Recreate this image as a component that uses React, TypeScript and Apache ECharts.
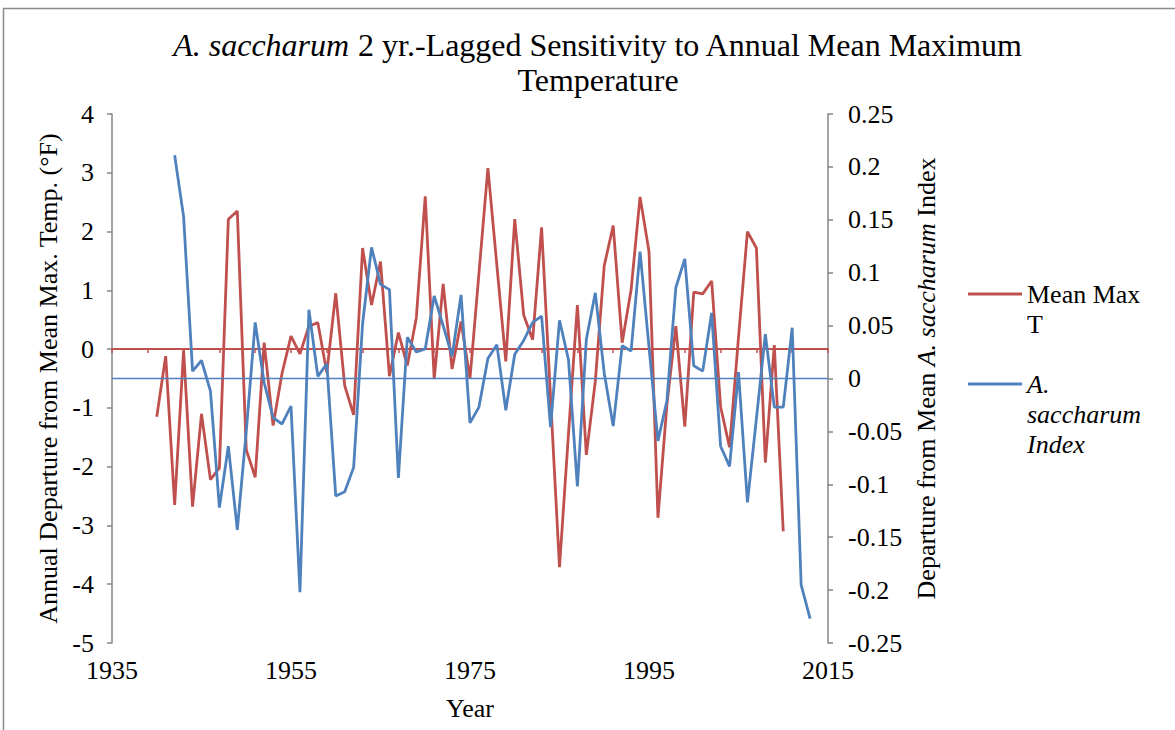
import React, { useEffect, useRef } from "react";
import * as echarts from "echarts";

// ---- data ----
const tempStartYear = 1940;
const meanMaxT = [
  -1.15, -0.12, -2.65, -0.02, -2.68, -1.1, -2.22, -2.02, 2.21, 2.35,
  -1.71, -2.18, 0.11, -1.3, -0.41, 0.22, -0.08, 0.39, 0.45, -0.4,
  0.95, -0.62, -1.12, 1.72, 0.75, 1.49, -0.46, 0.28, -0.28, 0.53,
  2.6, -0.51, 1.11, -0.34, 0.47, -0.5, 1.29, 3.08, 1.43, -0.21,
  2.21, 0.58, 0.16, 2.07, -0.82, -3.71, -1.45, 0.75, -1.8, -0.55,
  1.42, 2.1, 0.11, 1.01, 2.59, 1.66, -2.87, -0.95, 0.39, -1.32,
  0.97, 0.94, 1.16, -0.98, -1.67, 0.2, 2.0, 1.72, -1.93, 0.07,
  -3.1,
];
const indexStartYear = 1942;
const sacchIndex = [
  0.211, 0.153, 0.007, 0.017, -0.012, -0.122, -0.064, -0.143, -0.05, 0.053,
  -0.004, -0.037, -0.043, -0.026, -0.202, 0.065, 0.002, 0.014, -0.111, -0.107,
  -0.084, 0.052, 0.124, 0.089, 0.084, -0.094, 0.039, 0.025, 0.028, 0.078,
  0.05, 0.021, 0.079, -0.042, -0.027, 0.019, 0.032, -0.03, 0.023, 0.036,
  0.053, 0.059, -0.046, 0.055, 0.018, -0.102, 0.037, 0.081, 0.005, -0.045,
  0.031, 0.026, 0.12, 0.03, -0.059, -0.021, 0.086, 0.113, 0.012, 0.007,
  0.062, -0.064, -0.083, 0.006, -0.117, -0.038, 0.042, -0.027, -0.027, 0.048,
  -0.195, -0.227,
];
const xMin = 1935;
const xMax = 2015;
const xStep = 20;
const leftMin = -5;
const leftMax = 4;
const rightMin = -0.25;
const rightMax = 0.25;
const seriesNames = ["Mean Max T", "A. saccharum Index"];

const FONT = '"Liberation Serif", "Times New Roman", serif';
const RED = "#C0504D";
const BLUE = "#4F81BD";
const AXIS = "#868686";

export default function App() {
  const ref = useRef<HTMLDivElement>(null);
  useEffect(() => {
    if (!ref.current) return;
    const chart = echarts.init(ref.current, undefined, { renderer: "svg" });
    const redData = meanMaxT.map((v, i) => [tempStartYear + i, v]);
    const blueData = sacchIndex.map((v, i) => [indexStartYear + i, v]);
    const txt = { fontFamily: FONT, fontSize: 26, color: "#000" };
    chart.setOption({
      animation: false,
      backgroundColor: "#fff",
      title: {
        text: "{i|A. saccharum} 2 yr.-Lagged Sensitivity to Annual Mean Maximum\nTemperature",
        left: 598,
        top: 27,
        padding: 0,
        textAlign: "center",
        textVerticalAlign: "top",
        textStyle: {
          fontFamily: FONT,
          fontSize: 32,
          fontWeight: "normal",
          color: "#000",
          lineHeight: 35,
          rich: {
            i: { fontFamily: FONT, fontSize: 32, fontStyle: "italic", color: "#000", lineHeight: 35 },
          },
        },
      },
      graphic: [
        {
          type: "rect",
          silent: true,
          z: -10,
          shape: { x: 3.5, y: 8.5, width: 1400, height: 1000 },
          style: { fill: "none", stroke: "#8c8c8c", lineWidth: 1.5 },
        },
      ],
      legend: [
        {
          data: [seriesNames[0]],
          left: 968,
          top: 251,
          padding: 0,
          orient: "vertical",
          icon: "rect",
          itemWidth: 54,
          itemHeight: 3,
          selectedMode: false,
          formatter: () => "{b| }\n{t|Mean Max}\n{t|T}",
          textStyle: {
            ...txt,
            rich: {
              b: { fontFamily: FONT, fontSize: 26, lineHeight: 30 },
              t: { fontFamily: FONT, fontSize: 26, color: "#000", lineHeight: 30 },
            },
          },
        },
        {
          data: [seriesNames[1]],
          left: 968,
          top: 326,
          padding: 0,
          orient: "vertical",
          icon: "rect",
          itemWidth: 54,
          itemHeight: 3,
          selectedMode: false,
          formatter: () => "{b| }\n{i|A.}\n{i|saccharum}\n{i|Index}",
          textStyle: {
            ...txt,
            rich: {
              b: { fontFamily: FONT, fontSize: 26, lineHeight: 60 },
              i: { fontFamily: FONT, fontSize: 26, fontStyle: "italic", color: "#000", lineHeight: 30 },
            },
          },
        },
      ],
      grid: { left: 112, top: 114, width: 716, height: 529, containLabel: false },
      xAxis: [
        {
          type: "value",
          min: xMin,
          max: xMax,
          interval: xStep,
          position: "bottom",
          axisLine: { show: false, onZero: false },
          axisTick: { show: false },
          splitLine: { show: false },
          axisLabel: { ...txt, margin: 14, formatter: (v: number) => String(v) },
          name: "Year",
          nameLocation: "middle",
          nameGap: 52,
          nameTextStyle: { ...txt },
        },
        {
          type: "value",
          min: xMin,
          max: xMax,
          interval: 4,
          position: "bottom",
          axisLine: { show: true, onZero: true, onZeroAxisIndex: 0, lineStyle: { color: RED, width: 2 } },
          axisTick: { show: true, length: 4, lineStyle: { color: RED, width: 1.5 } },
          axisLabel: { show: false },
          splitLine: { show: false },
        },
      ],
      yAxis: [
        {
          type: "value",
          position: "left",
          min: leftMin,
          max: leftMax,
          interval: 1,
          axisLine: { show: true, lineStyle: { color: AXIS, width: 1.5 } },
          axisTick: { show: true, length: 5, lineStyle: { color: AXIS, width: 1.5 } },
          splitLine: { show: false },
          axisLabel: { ...txt, margin: 18 },
          name: "Annual Departure from Mean Max. Temp. (°F)",
          nameLocation: "middle",
          nameGap: 47,
          nameTextStyle: { ...txt },
        },
        {
          type: "value",
          position: "right",
          min: rightMin,
          max: rightMax,
          interval: 0.05,
          axisLine: { show: true, lineStyle: { color: AXIS, width: 1.5 } },
          axisTick: { show: true, length: 5, lineStyle: { color: AXIS, width: 1.5 } },
          splitLine: { show: false },
          axisLabel: { ...txt, margin: 20 },
          name: "{n|Departure from Mean }{i|A. saccharum}{n| Index}",
          nameLocation: "middle",
          nameGap: 82,
          nameTextStyle: {
            ...txt,
            rich: {
              n: { fontFamily: FONT, fontSize: 26, color: "#000" },
              i: { fontFamily: FONT, fontSize: 26, color: "#000", fontStyle: "italic" },
            },
          },
        },
      ],
      series: [
        {
          name: seriesNames[0],
          type: "line",
          xAxisIndex: 0,
          yAxisIndex: 0,
          data: redData,
          symbol: "none",
          showSymbol: false,
          lineStyle: { color: RED, width: 2.8 },
          itemStyle: { color: RED },
          z: 3,
        },
        {
          name: seriesNames[1],
          type: "line",
          xAxisIndex: 0,
          yAxisIndex: 1,
          data: blueData,
          symbol: "none",
          showSymbol: false,
          lineStyle: { color: BLUE, width: 2.8 },
          itemStyle: { color: BLUE },
          z: 4,
          markLine: {
            silent: true,
            symbol: "none",
            label: { show: false },
            lineStyle: { color: BLUE, width: 1.3, type: "solid" },
            data: [{ yAxis: 0 }],
          },
        },
      ],
    });
    return () => chart.dispose();
  }, []);
  return (
    <div
      ref={ref}
      style={{ position: "fixed", left: 0, top: 0, width: 1175, height: 730, background: "#fff" }}
    />
  );
}
